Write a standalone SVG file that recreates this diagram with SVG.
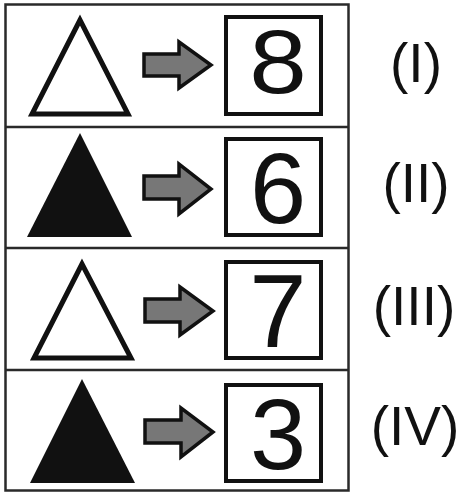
<svg xmlns="http://www.w3.org/2000/svg" width="461" height="493" viewBox="0 0 461 493">
<style>
.frame{fill:none;stroke:#2a2a2a;stroke-width:2.5}
.sep{stroke:#2a2a2a;stroke-width:2.5}
.tri-open{fill:#fff;stroke:#111;stroke-width:5;stroke-linejoin:miter}
.tri-fill{fill:#111;stroke:none}
.arrow{fill:#777;stroke:#111;stroke-width:3.5;stroke-linejoin:miter}
.box{fill:#fff;stroke:#111;stroke-width:4}
.num{font-family:"Liberation Sans",Arial,sans-serif;fill:#111;text-anchor:middle}
.lbl{font-family:"Liberation Sans",Arial,sans-serif;font-size:55px;fill:#111;text-anchor:middle}
</style>
<rect width="461" height="493" fill="#fff"/>
<rect class="frame" x="5.5" y="4.5" width="343" height="486"/>
<g id="connectors">
<line class="sep" x1="5" y1="127" x2="349" y2="127"/>
<line class="sep" x1="5" y1="248" x2="349" y2="248"/>
<line class="sep" x1="5" y1="370" x2="349" y2="370"/>
<path class="arrow" d="M144,54 H179 V42 L211,65 L179,88 V76 H144 Z"/>
<path class="arrow" d="M144,176 H179 V164 L211,189 L179,214 V199 H144 Z"/>
<path class="arrow" d="M145,299 H180 V287 L213,311 L180,335 V322 H145 Z"/>
<path class="arrow" d="M145,420 H181 V408 L213,432 L181,457 V443 H145 Z"/>
</g>
<g id="row1">
<polygon class="tri-open" points="80,20 32,114 128,114"/>
<rect class="box" x="226" y="17" width="95" height="97"/>
<text class="num" x="278" y="93" font-size="90" transform="translate(278 0) scale(1.15 1) translate(-278 0)">8</text>
<text class="lbl" x="416" y="82">(I)</text>
</g>
<g id="row2">
<polygon class="tri-fill" points="80,133 27,237 132,237"/>
<rect class="box" x="226" y="139" width="95" height="96"/>
<text class="num" x="278" y="223" font-size="101">6</text>
<text class="lbl" x="416" y="202">(II)</text>
</g>
<g id="row3">
<polygon class="tri-open" points="82,264 34,358 131,358"/>
<rect class="box" x="226" y="262" width="95" height="96"/>
<text class="num" x="278" y="347" font-size="103">7</text>
<text class="lbl" x="414" y="325">(III)</text>
</g>
<g id="row4">
<polygon class="tri-fill" points="82,379 30,483 135,483"/>
<rect class="box" x="226" y="385" width="95" height="96"/>
<text class="num" x="278" y="469" font-size="101">3</text>
<text class="lbl" x="415" y="445">(IV)</text>
</g>
</svg>
